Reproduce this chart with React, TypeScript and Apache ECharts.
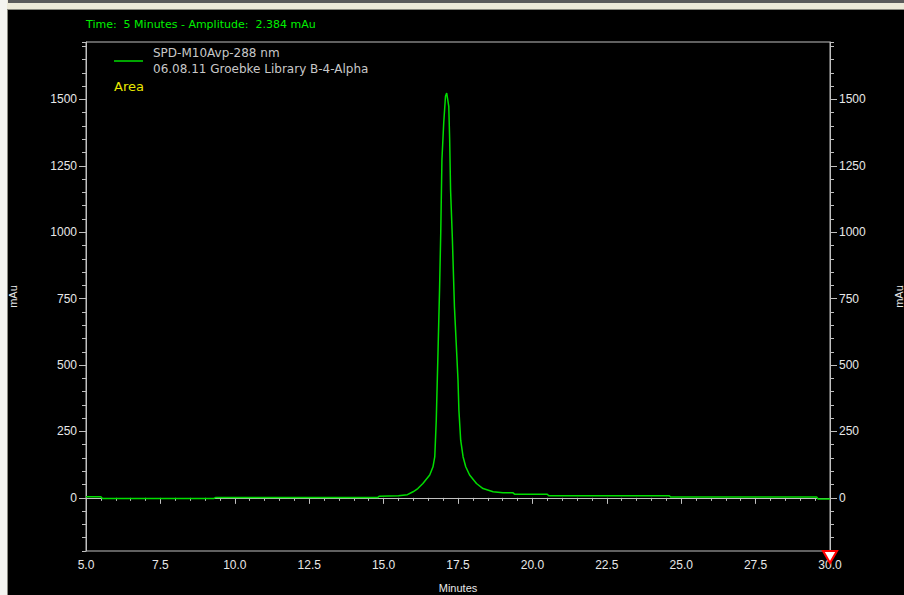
import React, { useEffect, useRef } from "react";
import * as echarts from "echarts";

const times = [5.0, 5.5, 5.55, 9.3, 9.35, 14.8, 14.85, 15.5, 15.8, 15.99, 16.15, 16.32, 16.55, 16.66, 16.72, 16.77, 16.83, 16.88, 16.92, 16.96, 17.02, 17.08, 17.12, 17.19, 17.22, 17.25, 17.31, 17.38, 17.44, 17.5, 17.53, 17.59, 17.67, 17.76, 17.89, 18.12, 18.34, 18.68, 19.01, 19.35, 19.4, 20.5, 20.55, 24.6, 24.65, 29.55, 29.6, 30.0];
const absorbance = [4, 4, -2, -2, 1, 1, 6, 8, 12, 23, 35, 54, 86, 117, 155, 293, 557, 783, 997, 1273, 1411, 1512, 1524, 1474, 1348, 1160, 978, 720, 582, 444, 331, 217, 155, 117, 86, 54, 35, 23, 19, 19, 14, 14, 8, 8, 3, 3, -4, -4];
const yMajorTicks = [0, 250, 500, 750, 1000, 1250, 1500];
const titleText = "Time:  5 Minutes - Amplitude:  2.384 mAu";
const legendLine1 = "SPD-M10Avp-288 nm";
const legendLine2 = "06.08.11 Groebke Library B-4-Alpha";
const legendExtra = "Area";
const markerTime = 30.0;

const FONT = "Liberation Sans";
const TFONT = "DejaVu Sans";
const AX = "#c0c0c0";
const LBL = "#e8e8e8";
const GREEN = "#00dd00";
const Y_MIN = -200;
const Y_MAX = 1716;

function makeY(position: "left" | "right", major: boolean, showName: boolean) {
  return {
    type: "value",
    position,
    min: Y_MIN,
    max: Y_MAX,
    interval: major ? undefined : 50,
    name: showName ? "mAu" : "",
    nameLocation: "middle",
    nameRotate: 90,
    nameGap: position === "left" ? 68 : 63,
    nameTextStyle: { color: LBL, fontFamily: FONT, fontSize: 11 },
    axisLine: { show: major, lineStyle: { color: AX, width: 1 } },
    axisTick: major
      ? { show: true, length: 7, inside: false, customValues: yMajorTicks, lineStyle: { color: AX } }
      : { show: true, length: 4, inside: false, lineStyle: { color: AX } },
    axisLabel: major
      ? {
          show: true,
          customValues: yMajorTicks,
          color: LBL,
          fontFamily: FONT,
          fontSize: 12,
          margin: 9,
          formatter: (v: number) => String(v),
        }
      : { show: false },
    splitLine: { show: false },
  };
}

export default function App() {
  const ref = useRef<HTMLDivElement>(null);
  useEffect(() => {
    if (!ref.current) return;
    const chart = echarts.init(ref.current, null, { renderer: "svg" });
    const data = times.map((t, i) => [t, absorbance[i]]);
    chart.setOption({
      animation: false,
      backgroundColor: "#000000",
      grid: {
        left: 86,
        right: 74,
        top: 42,
        bottom: 44,
        containLabel: false,
        outerBoundsMode: "none",
        show: true,
        borderColor: AX,
        borderWidth: 1,
        backgroundColor: "transparent",
      },
      xAxis: {
        type: "value",
        min: 5,
        max: 30,
        interval: 2.5,
        name: "Minutes",
        nameLocation: "middle",
        nameGap: 31,
        nameTextStyle: { color: LBL, fontFamily: FONT, fontSize: 11 },
        axisLine: { show: true, lineStyle: { color: AX } },
        axisTick: { show: true, length: 6, lineStyle: { color: AX } },
        minorTick: { show: true, splitNumber: 5, length: 3, lineStyle: { color: AX } },
        axisLabel: {
          color: LBL,
          fontFamily: FONT,
          fontSize: 12,
          margin: 8,
          formatter: (v: number) => v.toFixed(1),
        },
        splitLine: { show: false },
      },
      yAxis: [
        makeY("left", true, true),
        makeY("left", false, false),
        makeY("right", true, true),
        makeY("right", false, false),
      ],
      graphic: [
        { type: "rect", shape: { x: 0, y: 0, width: 904, height: 10 }, style: { fill: "#ece9d8" }, silent: true },
        { type: "rect", shape: { x: 8, y: 0, width: 896, height: 3 }, style: { fill: "#5a5a5a" }, silent: true },
        { type: "rect", shape: { x: 0, y: 9, width: 904, height: 1 }, style: { fill: "#8a8a80" }, silent: true },
        { type: "rect", shape: { x: 0, y: 0, width: 7, height: 595 }, style: { fill: "#f4f4f0" }, silent: true },
        { type: "rect", shape: { x: 7, y: 9, width: 1, height: 586 }, style: { fill: "#8a8a80" }, silent: true },
        {
          type: "text",
          x: 86,
          y: 24,
          style: { text: titleText, fill: "#00f000", font: `11px "${TFONT}"`, textVerticalAlign: "middle" },
        },
        { type: "line", shape: { x1: 114, y1: 61, x2: 143, y2: 61 }, style: { stroke: GREEN, lineWidth: 1.5 } },
        {
          type: "text",
          x: 153,
          y: 53,
          style: { text: legendLine1, fill: "#c8c8c8", font: `12px "${TFONT}"`, textVerticalAlign: "middle" },
        },
        {
          type: "text",
          x: 153,
          y: 69,
          style: { text: legendLine2, fill: "#c8c8c8", font: `12px "${TFONT}"`, textVerticalAlign: "middle" },
        },
        {
          type: "text",
          x: 114,
          y: 86,
          style: { text: legendExtra, fill: "#e8e800", font: `13px "${TFONT}"`, textVerticalAlign: "middle" },
        },
      ],
      series: [
        {
          type: "line",
          xAxisIndex: 0,
          yAxisIndex: 0,
          data,
          showSymbol: false,
          symbol: "none",
          lineStyle: { color: GREEN, width: 1.5 },
          markPoint: {
            silent: true,
            symbol: "path://M0,0 L14,0 L7,12 Z",
            symbolSize: [14, 12],
            symbolOffset: [0, 6],
            itemStyle: { color: "#ffffff", borderColor: "#ff0000", borderWidth: 2 },
            label: { show: false },
            data: [{ coord: [markerTime, Y_MIN] }],
          },
        },
      ],
    });
    return () => chart.dispose();
  }, []);
  return (
    <div
      ref={ref}
      style={{ position: "fixed", left: 0, top: 0, width: 904, height: 595 }}
    />
  );
}
